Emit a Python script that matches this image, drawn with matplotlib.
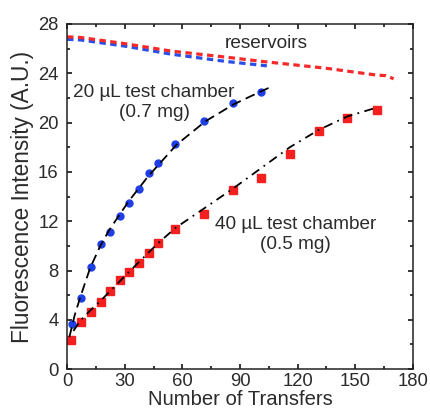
import numpy as np
import matplotlib.pyplot as plt
from matplotlib.ticker import MultipleLocator

plt.rcParams['font.family'] = ['Liberation Sans', 'DejaVu Sans']

# reservoir curves
res_red_x = [0, 7, 30, 54, 83, 102, 135, 161, 166, 170]
res_red_y = [26.95, 26.9, 26.4, 25.8, 25.3, 24.95, 24.4, 23.85, 23.8, 23.55]
res_blue_x = [0, 7, 30, 54, 83, 104]
res_blue_y = [26.75, 26.7, 26.2, 25.55, 24.95, 24.6]

# 20 uL test chamber (blue circles)
blue_x = [2.4, 7.3, 12.5, 17.5, 22.4, 27.6, 32.4, 37.5, 42.5, 47.3, 56.4, 71.3, 86.2, 101.1]
blue_y = [3.65, 5.8, 8.3, 10.15, 11.15, 12.45, 13.5, 14.65, 15.9, 16.7, 18.3, 20.1, 21.55, 22.5]
fit_blue_x = [1.2, 4, 7, 12, 17, 22, 32, 42, 57, 72, 87, 102, 105.6]
fit_blue_y = [2.6, 4.4, 5.9, 8.2, 9.9, 11.3, 13.6, 15.6, 18.2, 20.1, 21.5, 22.6, 22.85]

# 40 uL test chamber (red squares)
red_x = [2.1, 7.3, 12.5, 17.5, 22.4, 27.6, 32.4, 37.5, 42.5, 47.3, 56.4, 71.3, 86.2,
         101.1, 116, 131.3, 145.8, 161.4]
red_y = [2.4, 3.85, 4.6, 5.45, 6.35, 7.2, 7.9, 8.6, 9.45, 10.25, 11.35, 12.6, 14.5,
         15.5, 17.45, 19.35, 20.35, 21.0]
fit_red_x = [3.3, 7, 12, 17.5, 27.6, 37.5, 47.3, 56.4, 71, 86, 101, 116, 131, 146, 162]
fit_red_y = [3.1, 3.95, 4.75, 5.55, 7.15, 8.7, 10.2, 11.45, 13.0, 14.6, 16.3, 18.0, 19.4, 20.5, 21.25]

fig = plt.figure(figsize=(4.3, 4.12), dpi=100)
ax = fig.add_axes([0.156, 0.104, 0.804, 0.838])

# reservoirs
ax.plot(res_blue_x, res_blue_y, color='#2a4fe8', lw=2.3, ls=(0, (2.0, 1.4)))
ax.plot(res_red_x, res_red_y, color='#f42a2a', lw=2.3, ls=(0, (2.0, 1.4)))

# fits
ax.plot(fit_blue_x, fit_blue_y, color='black', lw=1.3, ls=(0, (5.5, 3)), zorder=3)
ax.plot(fit_red_x, fit_red_y, color='black', lw=1.3, ls=(0, (5, 3, 1, 3)), zorder=3)

# data
ax.plot(blue_x, blue_y, 'o', color='#1f3fe6', ms=5, mec='#1f3fe6', zorder=2)
ax.plot(red_x, red_y, 's', color='#f42020', ms=5.3, mec='#f42020', zorder=2)

txt = '#2b2b2b'
ax.text(103.5, 26.45, 'reservoirs', ha='center', va='center', fontsize=13.7, color=txt)
ax.text(45.3, 21.6, '20 µL test chamber\n(0.7 mg)', ha='center', va='center',
        fontsize=13.7, color=txt, linespacing=1.25)
ax.text(119, 10.95, '40 µL test chamber\n(0.5 mg)', ha='center', va='center',
        fontsize=13.7, color=txt, linespacing=1.25)

ax.set_xlim(0, 180)
ax.set_ylim(0, 28)
ax.xaxis.set_major_locator(MultipleLocator(30))
ax.xaxis.set_minor_locator(MultipleLocator(15))
ax.yaxis.set_major_locator(MultipleLocator(4))
ax.yaxis.set_minor_locator(MultipleLocator(2))
ax.tick_params(which='both', direction='in', top=True, right=True, width=1.1,
               labelsize=13.3, labelcolor=txt)
ax.tick_params(which='major', length=3.6)
ax.tick_params(which='minor', length=2.2)
ax.tick_params(axis='x', pad=2.5)
ax.tick_params(axis='y', pad=6)
for s in ax.spines.values():
    s.set_linewidth(1.1)
    s.set_color('#222222')

ax.set_xlabel('Number of Transfers', fontsize=14.6, color=txt, labelpad=0.5)
ax.set_ylabel('Fluorescence Intensity (A.U.)', fontsize=16.3, color=txt, labelpad=3)

fig.savefig('out.png', dpi=100)
